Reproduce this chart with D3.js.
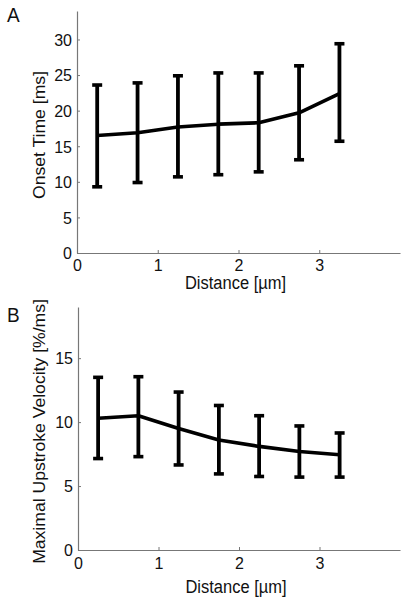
<!DOCTYPE html>
<html>
<head>
<meta charset="utf-8">
<script src="https://cdn.jsdelivr.net/npm/d3@7"></script>
<style>
  html, body { margin: 0; padding: 0; background: #fff; }
  svg { display: block; }
  text { font-family: "Liberation Sans", Arial, sans-serif; fill: #111; }
</style>
</head>
<body>
<svg id="chart" width="409" height="601"></svg>
<script>
// ---- data ----
const distance = [0.25, 0.75, 1.25, 1.75, 2.25, 2.75, 3.25];
const onsetMean  = [16.5, 16.9, 17.7, 18.1, 18.3, 19.7, 22.4];
const onsetUpper = [23.6, 23.9, 24.9, 25.3, 25.3, 26.3, 29.4];
const onsetLower = [9.3, 9.9, 10.7, 11.0, 11.4, 13.1, 15.7];
const vmaxMean  = [10.3, 10.5, 9.5, 8.6, 8.1, 7.7, 7.45];
const vmaxUpper = [13.5, 13.55, 12.35, 11.3, 10.5, 9.7, 9.15];
const vmaxLower = [7.15, 7.3, 6.65, 5.95, 5.75, 5.7, 5.7];
const xTicks = [0, 1, 2, 3];
const onsetTicks = [0, 5, 10, 15, 20, 25, 30];
const vmaxTicks = [0, 5, 10, 15];
const panelLabels = ["A", "B"];
const xTitle = "Distance [\u00b5m]";
const yTitles = ["Onset Time [ms]", "Maximal Upstroke Velocity [%/ms]"];

const svg = d3.select("#chart");
const STRETCH = 1.1; // source image is slightly stretched vertically

const panels = [
  { label: panelLabels[0], mean: onsetMean, upper: onsetUpper, lower: onsetLower,
    yTicks: onsetTicks, yMax: 34, yTitle: yTitles[0],
    left: 77, right: 400, top: 11, bottom: 253, labelY: 22, xTitleY: 289, xTickY: 18 },
  { label: panelLabels[1], mean: vmaxMean, upper: vmaxUpper, lower: vmaxLower,
    yTicks: vmaxTicks, yMax: 19, yTitle: yTitles[1],
    left: 78, right: 400, top: 307, bottom: 550, labelY: 322, xTitleY: 593, xTickY: 19 }
];

panels.forEach(p => {
  const g = svg.append("g");
  const x = d3.scaleLinear().domain([0, 4]).range([p.left, p.right]);
  const y = d3.scaleLinear().domain([0, p.yMax]).range([p.bottom, p.top]);

  // x axis
  const xAxis = g.append("g")
    .attr("transform", `translate(0,${p.bottom})`)
    .call(d3.axisBottom(x).tickValues(xTicks).tickFormat(d3.format("d")).tickSizeInner(-3).tickSizeOuter(0));
  // y axis
  const yAxis = g.append("g")
    .attr("transform", `translate(${p.left},0)`)
    .call(d3.axisLeft(y).tickValues(p.yTicks).tickFormat(d3.format("d")).tickSizeInner(-3).tickSizeOuter(0));

  [xAxis, yAxis].forEach(a => {
    a.select(".domain").attr("stroke", "#777").attr("stroke-width", 1.2);
    a.selectAll(".tick line").attr("stroke", "#777").attr("stroke-width", 1);
    a.selectAll(".tick text").attr("font-size", 16).attr("fill", "#111")
      .attr("font-family", "Liberation Sans, Arial, sans-serif");
  });
  yAxis.selectAll(".tick text").attr("x", -5).attr("dy", "0.36em");
  xAxis.selectAll(".tick text").attr("y", p.xTickY).attr("dy", null);

  // error bars
  const eb = g.append("g");
  distance.forEach((d, i) => {
    const cx = x(d);
    eb.append("line").attr("x1", cx).attr("x2", cx)
      .attr("y1", y(p.lower[i])).attr("y2", y(p.upper[i]))
      .attr("stroke", "#000").attr("stroke-width", 3.8);
    [p.lower[i], p.upper[i]].forEach(v => {
      eb.append("line").attr("x1", cx - 5).attr("x2", cx + 5)
        .attr("y1", y(v)).attr("y2", y(v))
        .attr("stroke", "#000").attr("stroke-width", 3.6);
    });
  });

  // mean line
  const line = d3.line().x((d, i) => x(distance[i])).y(d => y(d));
  g.append("path").datum(p.mean).attr("d", line)
    .attr("fill", "none").attr("stroke", "#000").attr("stroke-width", 3.6)
    .attr("stroke-linejoin", "round");

  // axis titles
  g.append("text")
    .attr("transform", `translate(${(x(0) + x(4)) / 2 - 3},${p.xTitleY}) scale(1,${STRETCH})`)
    .attr("text-anchor", "middle").attr("font-size", 16.5).text(xTitle);
  g.append("text")
    .attr("transform", `translate(45,${(p.top + p.bottom) / 2 + 3}) rotate(-90) scale(${STRETCH},1)`)
    .attr("text-anchor", "middle").attr("font-size", 16).text(p.yTitle);

  // panel label
  g.append("text")
    .attr("transform", `translate(7,${p.labelY}) scale(1,${STRETCH})`)
    .attr("font-size", 19).text(p.label);
});
</script>
</body>
</html>
